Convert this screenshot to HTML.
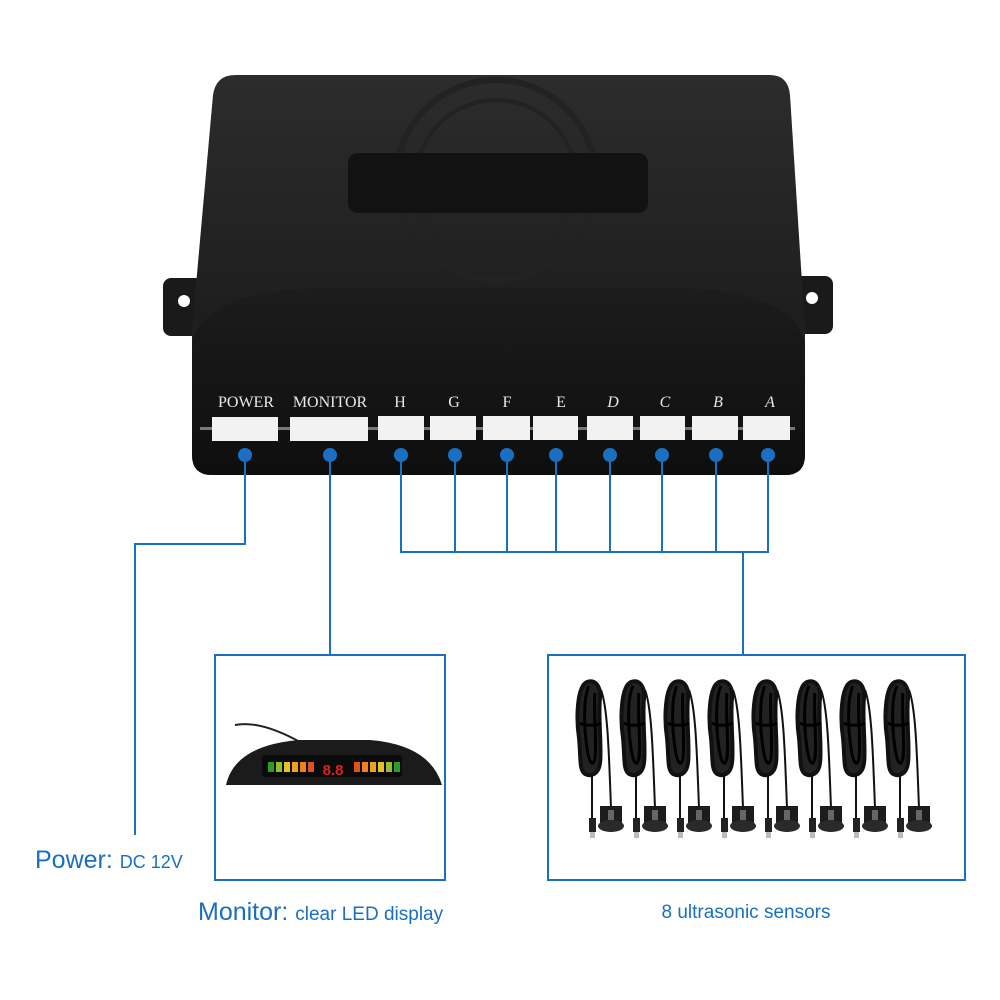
<!DOCTYPE html>
<html><head><style>
body{margin:0;background:#fff;}
svg{display:block;}
.s{font-family:"Liberation Sans",sans-serif;}
.r{font-family:"Liberation Serif",serif;}
</style></head><body>
<svg width="1000" height="1000" viewBox="0 0 1000 1000" xmlns="http://www.w3.org/2000/svg">
<defs>
<linearGradient id="top" x1="0" y1="0" x2="0" y2="1">
<stop offset="0" stop-color="#2c2c2c"/><stop offset="0.6" stop-color="#1e1e1e"/><stop offset="1" stop-color="#262626"/>
</linearGradient>
<linearGradient id="face" x1="0" y1="0" x2="0" y2="1">
<stop offset="0" stop-color="#1c1c1c"/><stop offset="1" stop-color="#0e0e0e"/>
</linearGradient>
<g id="sensor">
<path d="M12 4 C2 8 1 40 4 60 C6 80 4 92 10 96 C16 99 24 96 25 85 C27 70 23 40 25 20 C26 8 20 1 12 4 Z" fill="#222" stroke="#111" stroke-width="4"/>
<path d="M14 8 C8 20 9 50 12 70 C14 85 18 90 20 80 C22 60 18 30 20 15" fill="none" stroke="#000" stroke-width="3"/>
<path d="M5 45 C10 48 20 48 26 45" stroke="#000" stroke-width="3" fill="none"/>
<path d="M26 12 C33 30 34 80 36 130" fill="none" stroke="#111" stroke-width="2"/>
<path d="M17 95 L17 140" stroke="#111" stroke-width="2"/>
<rect x="14" y="140" width="7" height="14" fill="#222"/>
<rect x="15" y="154" width="5" height="6" fill="#bbb"/>
<path d="M25 128 h22 v20 a11 5 0 0 1 -22 0 Z" fill="#1c1c1c"/>
<ellipse cx="36" cy="148" rx="13" ry="6" fill="#2a2a2a"/>
<rect x="33" y="132" width="6" height="10" fill="#666"/>
</g>
</defs>
<rect x="163" y="278" width="45" height="58" rx="8" fill="#1a1a1a"/>
<circle cx="184" cy="301" r="6" fill="#fff"/>
<rect x="790" y="276" width="43" height="58" rx="8" fill="#1a1a1a"/>
<circle cx="812" cy="298" r="6" fill="#fff"/>
<path d="M235 75 H770 Q788 75 790 95 L805 330 V455 Q805 475 785 475 H212 Q192 475 192 455 V330 L213 95 Q216 75 235 75 Z" fill="url(#top)"/>
<circle cx="496" cy="180" r="100" fill="none" stroke="#222" stroke-width="6"/>
<circle cx="496" cy="180" r="80" fill="none" stroke="#222" stroke-width="4"/>
<rect x="348" y="153" width="300" height="60" rx="10" fill="#121212"/>
<path d="M192 345 Q200 292 320 288 H680 Q795 292 805 345 V455 Q805 475 785 475 H212 Q192 475 192 455 Z" fill="url(#face)"/>
<g class="r" font-size="16" fill="#e8e8e8" text-anchor="middle">
<text x="246" y="407">POWER</text><text x="330" y="407">MONITOR</text>
<text x="400" y="407">H</text><text x="454" y="407">G</text><text x="507" y="407">F</text><text x="561" y="407">E</text>
<text x="613" y="407" font-style="italic">D</text><text x="665" y="407" font-style="italic">C</text><text x="718" y="407" font-style="italic">B</text><text x="770" y="407" font-style="italic">A</text>
</g>
<rect x="200" y="427" width="595" height="3" fill="#777"/>
<g fill="#f2f2f2">
<rect x="212" y="417" width="66" height="24"/><rect x="290" y="417" width="78" height="24"/>
<rect x="378" y="416" width="46" height="24"/><rect x="430" y="416" width="46" height="24"/>
<rect x="483" y="416" width="47" height="24"/><rect x="533" y="416" width="45" height="24"/>
<rect x="587" y="416" width="46" height="24"/><rect x="640" y="416" width="45" height="24"/>
<rect x="692" y="416" width="46" height="24"/><rect x="743" y="416" width="47" height="24"/>
</g>
<g stroke="#1a6fc0" stroke-width="2" fill="none">
<path d="M245 455 V544 H135 V835"/>
<path d="M330 455 V655"/>
<path d="M401 455 V552 H768 V455 M455 455 V552 M507 455 V552 M556 455 V552 M610 455 V552 M662 455 V552 M716 455 V552 M743 552 V655"/>
<rect x="215" y="655" width="230" height="225"/>
<rect x="548" y="655" width="417" height="225"/>
</g>
<g fill="#1a6fc0">
<circle cx="245" cy="455" r="7"/><circle cx="330" cy="455" r="7"/><circle cx="401" cy="455" r="7"/><circle cx="455" cy="455" r="7"/><circle cx="507" cy="455" r="7"/><circle cx="556" cy="455" r="7"/><circle cx="610" cy="455" r="7"/><circle cx="662" cy="455" r="7"/><circle cx="716" cy="455" r="7"/><circle cx="768" cy="455" r="7"/>
</g>
<path d="M300 742 Q260 720 235 725" stroke="#222" stroke-width="2" fill="none"/>
<path d="M226 785 Q235 745 300 740 H370 Q430 745 442 785 Z" fill="#1b1b1b"/>
<rect x="262" y="755" width="140" height="22" rx="3" fill="#0a0a0a"/>
<g><rect x="268" y="762" width="6" height="10" fill="#2a9d2a"/><rect x="276" y="762" width="6" height="10" fill="#8fc02a"/><rect x="284" y="762" width="6" height="10" fill="#e8c020"/><rect x="292" y="762" width="6" height="10" fill="#f0a020"/><rect x="300" y="762" width="6" height="10" fill="#f08020"/><rect x="308" y="762" width="6" height="10" fill="#e05020"/>
<text class="s" x="333" y="775" font-size="15" fill="#e02020" text-anchor="middle" font-weight="bold">8.8</text>
<rect x="354" y="762" width="6" height="10" fill="#e05020"/><rect x="362" y="762" width="6" height="10" fill="#f08020"/><rect x="370" y="762" width="6" height="10" fill="#f0a020"/><rect x="378" y="762" width="6" height="10" fill="#e8c020"/><rect x="386" y="762" width="6" height="10" fill="#8fc02a"/><rect x="394" y="762" width="6" height="10" fill="#2a9d2a"/></g>
<use href="#sensor" x="575" y="678"/><use href="#sensor" x="619" y="678"/><use href="#sensor" x="663" y="678"/><use href="#sensor" x="707" y="678"/>
<use href="#sensor" x="751" y="678"/><use href="#sensor" x="795" y="678"/><use href="#sensor" x="839" y="678"/><use href="#sensor" x="883" y="678"/>
<text class="s" x="35" y="868" font-size="25" fill="#1a6fc0">Power: <tspan font-size="18">DC 12V</tspan></text>
<text class="s" x="198" y="920" font-size="25" fill="#1a6fc0">Monitor: <tspan font-size="19">clear LED display</tspan></text>
<text class="s" x="746" y="918" font-size="19" fill="#1a6fc0" text-anchor="middle">8 ultrasonic sensors</text>
</svg>
</body></html>
